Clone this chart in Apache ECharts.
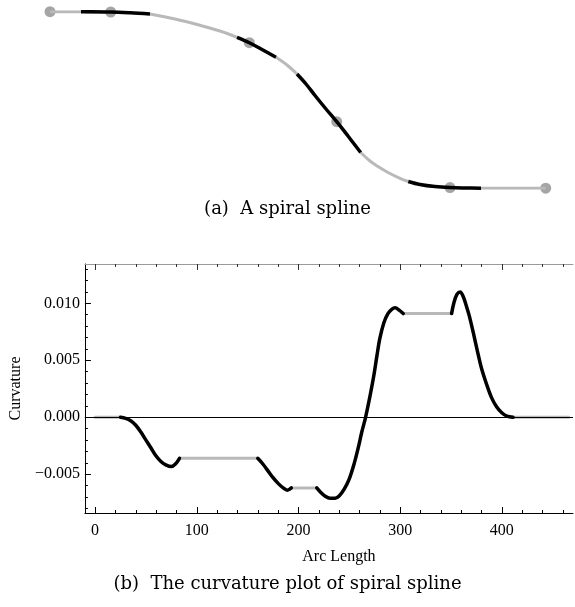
<!DOCTYPE html>
<html><head><meta charset="utf-8">
<script src="https://cdn.jsdelivr.net/npm/echarts@6/dist/echarts.min.js"></script>
<style>html,body{margin:0;padding:0;background:#fff}#c{width:575px;height:607px}</style>
</head><body><div id="c"></div>
<script>
// ---- (a) spiral spline: sampled curve (x to the right, y upward), knots, colour breaks ----
const splineX = [0,31,60.7,80,100,125,150,170,187,199.3,212,226,237,247,256,265,276,286.7,298,310.7,320,328,338,350,358.3,370,385,400,415,431,495.7];
const splineY = [176.5,176.5,176.2,175.4,174.2,169.2,162.9,157.2,150.9,145.5,138.7,130.9,123.2,114.2,104.2,92.7,79.2,66.5,52.2,35.7,27.2,21.7,15.7,9.9,6.7,3.7,1.6,0.6,0.2,0,0];
const splineBreaks = [31,100,187,226,247,310.7,358.3,431];
const knotX = [0,60.7,199.3,286.7,400,495.7];
const knotY = [176.5,176.2,145.5,66.5,0.6,0];

// ---- (b) curvature vs arc length ----
const arcLength = [0,25,30,35,40,45,50,55,60,65,70,75,79,83,160,165,170,175,180,185,189,193,218,222,226,231,236,240,245,250,255,259,262,266,270,274,277,280,284,288,292,295,299,303,350.6,353,356,359,362,365,368,372,376,380,385,390,395,400,405,411,466];
const curvature = [0,0,-0.0001,-0.0003,-0.0007,-0.0013,-0.0020,-0.0027,-0.0034,-0.0039,-0.0042,-0.00432,-0.0041,-0.0036,-0.0036,-0.0041,-0.0047,-0.0053,-0.0058,-0.0062,-0.0064,-0.0062,-0.0062,-0.0066,-0.0069,-0.0071,-0.0071,-0.0069,-0.0063,-0.0054,-0.0040,-0.0026,-0.0014,0,0.0017,0.0036,0.0053,0.0069,0.0083,0.0091,0.0095,0.0096,0.0094,0.0091,0.0091,0.0101,0.0108,0.0110,0.0106,0.0098,0.0089,0.0074,0.0058,0.0043,0.0029,0.0017,0.0009,0.0004,0.0001,0,0];
const curvatureBreaks = [25,83,160,193,218,303,350.6,411];

const xTickLabels = [0,100,200,300,400];
const xMinorTicks = [20,40,60,80,120,140,160,180,220,240,260,280,320,340,360,380,420,440,460];
const yTickLabels = [-0.005,0,0.005,0.010];
const yMinorTicks = [-0.008,-0.007,-0.006,-0.004,-0.003,-0.002,-0.001,0.001,0.002,0.003,0.004,0.006,0.007,0.008,0.009,0.011,0.012,0.013];

const captionA = '(a)  A spiral spline';
const captionB = '(b)  The curvature plot of spiral spline';
const xName = 'Arc Length';
const yName = 'Curvature';

const BLACK = '#000000', GRAY = '#b9b9b9';
const serif = 'Liberation Serif';

function segments(xs, ys, breaks) {
  const b = [-Infinity].concat(breaks, [Infinity]);
  const out = [];
  for (let i = 0; i < b.length - 1; i++) {
    const pts = [];
    for (let j = 0; j < xs.length; j++) {
      if (xs[j] >= b[i] - 1e-9 && xs[j] <= b[i + 1] + 1e-9) pts.push([xs[j], ys[j]]);
    }
    out.push({ pts: pts, gray: i % 2 === 0 });
  }
  return out;
}

const series = [];
series.push({
  type: 'scatter', xAxisIndex: 0, yAxisIndex: 0, z: 1,
  symbol: 'circle', symbolSize: 11,
  itemStyle: { color: '#8f8f8f' },
  data: knotX.map((x, i) => [x, knotY[i]]), silent: true
});
segments(splineX, splineY, splineBreaks).forEach(s => {
  series.push({
    type: 'line', xAxisIndex: 0, yAxisIndex: 0, z: s.gray ? 3 : 4,
    data: s.pts, smooth: 0.35, showSymbol: false, silent: true,
    lineStyle: { color: s.gray ? GRAY : BLACK, width: s.gray ? 3 : 3.5, cap: 'butt' }
  });
});
series.push({
  type: 'line', xAxisIndex: 1, yAxisIndex: 1, data: [], z: 2, silent: true,
  markLine: { silent: true, symbol: 'none', label: { show: false },
    lineStyle: { color: '#000', width: 1, type: 'solid' }, data: [{ yAxis: 0 }] }
});
segments(arcLength, curvature, curvatureBreaks).forEach(s => {
  series.push({
    type: 'line', xAxisIndex: 1, yAxisIndex: 1, z: s.gray ? 3 : 4,
    data: s.pts, smooth: 0.35, showSymbol: false, silent: true,
    lineStyle: { color: s.gray ? GRAY : BLACK, width: s.gray ? 3 : 3.5, cap: 'round' }
  });
});

const XMIN = -10, XMAX = 470, YMIN = -0.0084, YMAX = 0.01345;
const labelFont = { color: '#000', fontFamily: serif, fontSize: 16 };
function fmtY(v) {
  const s = Math.abs(v).toFixed(3);
  return v < 0 ? '\u2212' + s : s;
}
function hiddenX(extra) {
  return Object.assign({ type: 'value', gridIndex: 1, min: XMIN, max: XMAX, splitLine: { show: false },
    axisLabel: { show: false }, axisLine: { show: false, onZero: false } }, extra);
}

const option = {
  animation: false,
  backgroundColor: '#fff',
  grid: [
    { left: 50, right: 29.3, top: 11.7, bottom: 418.8 },
    { left: 84, right: 2, top: 264, bottom: 94 }
  ],
  xAxis: [
    { type: 'value', gridIndex: 0, min: 0, max: 495.7, show: false },
    { type: 'value', gridIndex: 1, min: XMIN, max: XMAX, position: 'bottom',
      splitLine: { show: false },
      axisLine: { show: true, onZero: false, lineStyle: { color: '#000', width: 1 } },
      axisTick: { show: true, inside: true, length: 6, customValues: xTickLabels, lineStyle: { color: '#000' } },
      axisLabel: { show: true, customValues: xTickLabels, margin: 10, ...labelFont },
      name: xName, nameLocation: 'middle', nameGap: 36,
      nameTextStyle: { ...labelFont, padding: [0, 0, 0, 20] } },
    hiddenX({ position: 'bottom', axisTick: { show: true, inside: true, length: 3, customValues: xMinorTicks, lineStyle: { color: '#000' } } }),
    hiddenX({ position: 'top', axisLine: { show: true, onZero: false, lineStyle: { color: '#9a9a9a', width: 1 } },
      axisTick: { show: true, inside: true, length: 6, customValues: xTickLabels, lineStyle: { color: '#333' } } }),
    hiddenX({ position: 'top', axisTick: { show: true, inside: true, length: 3, customValues: xMinorTicks, lineStyle: { color: '#333' } } })
  ],
  yAxis: [
    { type: 'value', gridIndex: 0, min: 0, max: 176.5, show: false },
    { type: 'value', gridIndex: 1, min: YMIN, max: YMAX, position: 'left',
      splitLine: { show: false },
      axisLine: { show: true, onZero: false, lineStyle: { color: '#000', width: 1 } },
      axisTick: { show: true, inside: true, length: 6, customValues: yTickLabels, lineStyle: { color: '#000' } },
      axisLabel: { show: true, customValues: yTickLabels, margin: 5, formatter: fmtY, ...labelFont },
      name: yName, nameLocation: 'middle', nameGap: 60, nameRotate: 90,
      nameTextStyle: { ...labelFont } },
    { type: 'value', gridIndex: 1, min: YMIN, max: YMAX, position: 'left',
      splitLine: { show: false }, axisLabel: { show: false }, axisLine: { show: false, onZero: false },
      axisTick: { show: true, inside: true, length: 3, customValues: yMinorTicks, lineStyle: { color: '#000' } } }
  ],
  graphic: [
    { type: 'text', left: 'center', top: 200, style: { text: captionA, font: '18px "DejaVu Serif"', fill: '#000' } },
    { type: 'text', left: 'center', top: 575, style: { text: captionB, font: '18px "DejaVu Serif"', fill: '#000' } }
  ],
  series: series
};
const chart = echarts.init(document.getElementById('c'), null, { renderer: 'canvas' });
chart.setOption(option);
</script></body></html>
